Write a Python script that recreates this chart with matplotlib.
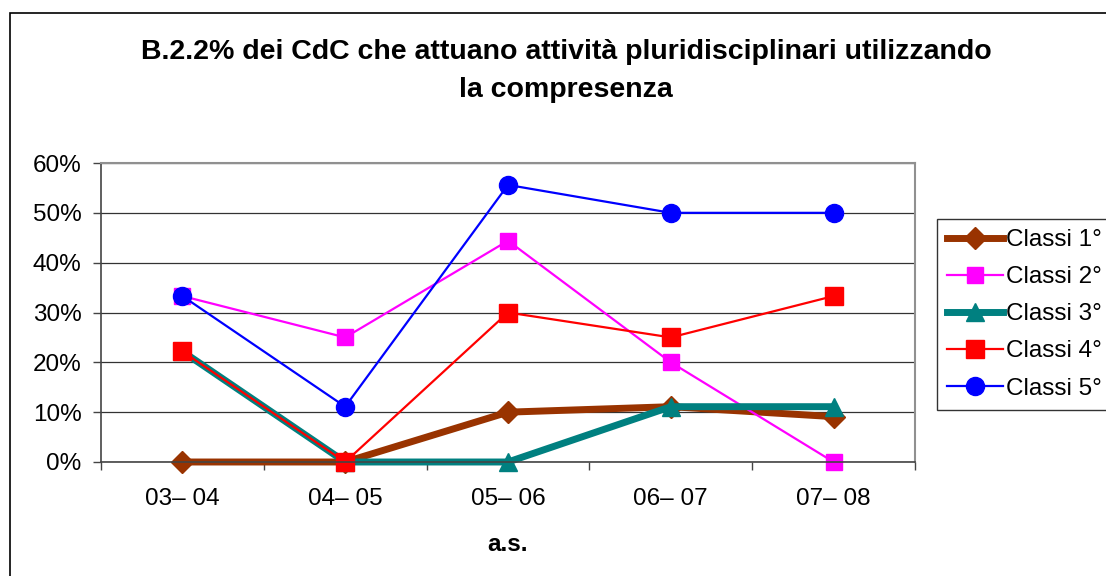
import matplotlib

matplotlib.use("Agg")
import matplotlib.pyplot as plt
from matplotlib.patches import Rectangle
from matplotlib.ticker import FixedLocator, PercentFormatter

plt.rcParams["font.family"] = ["Liberation Sans", "DejaVu Sans"]

# Data (percentages)
years = ["03– 04", "04– 05", "05– 06", "06– 07", "07– 08"]
classi_1 = [0, 0, 10, 11.1, 9.1]
classi_2 = [33.3, 25, 44.4, 20, 0]
classi_3 = [22.2, 0, 0, 11.1, 11.1]
classi_4 = [22.2, 0, 30, 25, 33.3]
classi_5 = [33.3, 11.1, 55.6, 50, 50]
labels = ["Classi 1°", "Classi 2°", "Classi 3°", "Classi 4°", "Classi 5°"]

title = "B.2.2% dei CdC che attuano attività pluridisciplinari utilizzando\nla compresenza"

W, H = 1106, 576
fig = plt.figure(figsize=(W / 100, H / 100), dpi=100)

# outer chart border (cut by the image edges)
fig.patches.append(
    Rectangle((9.5 / W, -0.05), 1.2, 1 - 13.5 / H + 0.05, transform=fig.transFigure,
              fill=False, edgecolor="black", linewidth=1.2)
)

ax = fig.add_axes([101 / W, 1 - 462 / H, 814 / W, 299 / H])

x = list(range(len(years)))
styles = [
    dict(color="#993300", lw=5, marker="D", ms=11),
    dict(color="#FF00FF", lw=1.6, marker="s", ms=11),
    dict(color="#008080", lw=5, marker="^", ms=13),
    dict(color="#FF0000", lw=1.6, marker="s", ms=13),
    dict(color="#0000FF", lw=1.6, marker="o", ms=13),
]
series = [classi_1, classi_2, classi_3, classi_4, classi_5]
for vals, lab, st in zip(series, labels, styles):
    ax.plot(x, vals, color=st["color"], linewidth=st["lw"], marker=st["marker"],
            markersize=st["ms"], markerfacecolor=st["color"], markeredgecolor=st["color"],
            label=lab, clip_on=False)

ax.set_xlim(-0.5, len(years) - 0.5)
ax.set_ylim(0, 60)
ax.yaxis.set_major_locator(FixedLocator([0, 10, 20, 30, 40, 50, 60]))
ax.yaxis.set_major_formatter(PercentFormatter(decimals=0))
ax.set_xticks(x)
ax.set_xticklabels(years)
ax.xaxis.set_minor_locator(FixedLocator([i - 0.5 for i in range(len(years) + 1)]))
ax.tick_params(axis="x", which="major", length=0, labelsize=17.5, pad=19)
ax.tick_params(axis="x", which="minor", length=6, width=1, color="#444444", direction="out")
ax.tick_params(axis="y", length=6, width=1, color="#444444", labelsize=17.5, pad=8)

ax.grid(True, axis="y", color="#333333", linewidth=0.9)
ax.set_axisbelow(True)
for side in ["top", "right"]:
    ax.spines[side].set_color("#909090")
    ax.spines[side].set_linewidth(1.5)
ax.spines["left"].set_color("#444444")
ax.spines["bottom"].set_color("#444444")
ax.spines["left"].set_linewidth(1.2)
ax.spines["bottom"].set_linewidth(1.2)

ax.set_xlabel("a.s.", fontsize=17.5, fontweight="bold", labelpad=16)

fig.text(566 / W, 1 - 71 / H, title, ha="center", va="center", fontsize=20.5,
         fontweight="bold", linespacing=1.62)

fig.legend(loc="upper left", bbox_to_anchor=(937 / W, 1 - 219 / H), borderaxespad=0,
           fontsize=17.5, frameon=True, fancybox=False, edgecolor="black",
           handlelength=2.3, handletextpad=0.1, labelspacing=0.62, borderpad=0.42,
           markerscale=1.0)

fig.savefig("out.png", dpi=100)
